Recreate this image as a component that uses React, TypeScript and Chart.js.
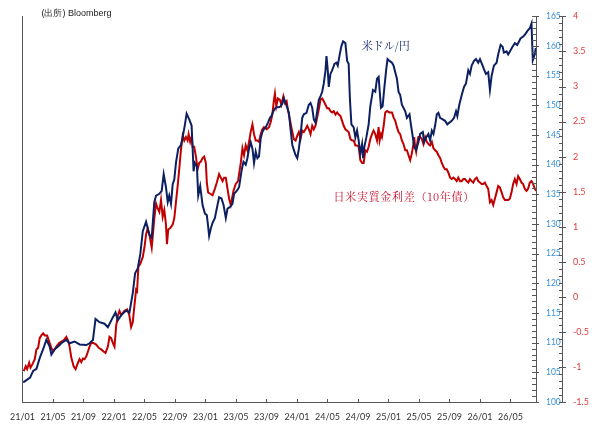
import React, { useEffect, useRef } from "react";
import { Chart, registerables } from "chart.js";

Chart.register(...registerables);

// ---- data (x = months since 2021/01) ----
const usdjpyMonth = [0.1,1.0,1.4,1.83,2.26,2.71,3.14,3.57,3.79,4.22,4.67,5.1,5.75,6.18,6.84,7.49,8.37,8.8,9.24,9.58,10.1,10.76,11.2,11.86,12.2,12.51,12.94,13.59,14.03,14.47,14.77,15.12,15.46,15.78,16.21,16.64,16.95,17.29,17.52,17.95,18.26,18.52,18.82,19.05,19.25,19.48,19.7,19.91,20.13,20.43,20.78,21.01,21.31,21.53,21.87,22.18,22.31,22.44,22.61,22.88,23.05,23.31,23.62,23.92,24.18,24.35,24.48,24.71,24.93,25.23,25.58,25.79,26.1,26.37,26.67,26.89,27.23,27.54,27.75,28.1,28.41,28.72,28.98,29.28,29.5,29.71,29.93,30.16,30.37,30.59,30.81,31.02,31.24,31.46,31.67,31.9,32.2,32.46,32.64,32.9,33.2,33.42,33.63,33.86,34.08,34.29,34.51,34.73,34.94,35.16,35.39,35.59,35.82,36.04,36.25,36.47,36.69,36.9,37.25,37.55,37.78,38.0,38.21,38.43,38.65,38.86,39.08,39.31,39.52,39.74,39.87,40.04,40.17,40.39,40.61,40.92,41.18,41.35,41.61,41.83,42.05,42.35,42.58,42.78,42.94,43.14,43.44,43.66,43.88,44.09,44.31,44.54,44.67,44.84,45.1,45.4,45.62,45.97,46.27,46.5,46.71,46.84,47.02,47.23,47.45,47.71,47.88,48.14,48.46,48.67,48.89,49.11,49.32,49.54,49.76,49.97,50.2,50.42,50.76,50.94,51.2,51.37,51.63,51.93,52.16,52.51,52.68,52.94,53.24,53.46,53.69,53.9,54.12,54.34,54.55,54.77,55.12,55.42,55.72,55.99,56.3,56.6,56.86,57.03,57.29,57.61,57.91,58.17,58.47,58.69,58.91,59.22,59.48,59.78,60.0,60.35,60.52,60.78,61.08,61.31,61.53,61.83,62.18,62.39,62.71,62.97,63.14,63.49,63.7,63.92,64.27,64.58,64.88,65.14,65.32,65.66,65.88,66.1,66.31,66.54,66.76,66.93,67.19,67.32];
const usdjpyValue = [103.3,104.1,105.25,105.6,107.4,108.9,110.5,109.35,108.0,108.9,109.35,109.9,110.5,109.9,110.2,109.7,109.6,109.9,110.45,114.0,113.45,113.2,112.6,114.3,115.1,113.8,114.6,115.4,115.1,118.4,121.7,122.5,125.0,128.8,130.4,128.2,127.7,133.7,134.8,135.1,135.6,138.4,136.2,133.7,134.8,133.4,136.7,137.5,140.3,142.7,143.3,144.6,146.8,148.6,147.65,146.6,143.0,138.9,140.3,139.7,134.8,136.4,133.2,131.8,131.5,129.6,128.0,129.3,130.2,131.0,133.2,134.5,134.3,133.2,131.0,132.6,132.9,133.4,135.1,135.6,136.2,138.9,140.5,140.0,141.1,142.7,143.8,142.7,140.3,142.2,141.1,141.4,144.4,145.5,146.0,146.3,147.1,147.9,148.2,149.0,149.6,149.7,149.7,149.85,150.3,151.2,150.4,149.6,148.75,146.0,143.3,142.5,141.6,141.1,142.7,144.9,147.9,148.5,148.75,150.1,150.4,149.6,147.65,147.1,149.0,150.9,151.5,152.3,153.7,155.9,158.3,155.9,153.1,155.3,155.9,157.0,157.2,156.7,158.6,160.0,160.8,160.5,157.5,157.0,151.2,146.8,146.3,144.6,145.75,144.1,141.9,143.5,141.1,143.0,144.6,146.8,149.85,152.6,152.3,154.5,154.8,152.6,149.6,149.85,152.85,156.1,157.8,157.5,157.2,156.7,155.6,154.5,152.3,151.75,150.1,149.6,149.0,147.9,148.5,146.8,144.6,143.0,142.5,143.8,145.2,145.5,143.8,144.6,145.2,144.1,145.75,145.2,146.6,148.5,148.75,147.9,147.65,147.4,146.8,147.1,147.4,147.9,149.0,148.2,150.1,151.75,153.1,153.7,155.9,155.3,156.7,157.5,157.8,157.2,157.8,156.7,156.1,155.3,155.6,152.6,155.0,156.7,157.2,158.6,160.2,159.9,158.9,159.1,158.6,159.1,159.9,160.5,160.2,160.8,161.3,161.6,161.9,162.3,162.7,163.0,163.8,157.6,158.6,159.7];

const spreadMonth = [0.17,0.43,0.61,0.88,1.05,1.31,1.61,1.83,2.05,2.26,2.48,2.71,2.92,3.23,3.57,3.79,4.01,4.22,4.44,4.8,5.1,5.4,5.75,5.97,6.18,6.41,6.71,6.97,7.28,7.49,7.71,7.93,8.14,8.37,8.59,8.8,9.02,9.32,9.67,10.03,10.33,10.63,10.89,11.2,11.41,11.63,11.86,12.07,12.29,12.51,12.72,12.94,13.37,13.73,13.99,14.25,14.47,14.68,14.9,15.03,15.2,15.46,15.78,15.99,16.21,16.43,16.64,16.95,17.29,17.52,17.74,17.95,18.17,18.39,18.6,18.82,18.95,19.12,19.39,19.7,19.91,20.13,20.35,20.56,20.78,21.01,21.22,21.44,21.66,21.79,22.0,22.18,22.31,22.52,22.75,22.97,23.18,23.4,23.62,23.83,24.05,24.18,24.35,24.61,24.93,25.23,25.49,25.79,26.01,26.24,26.44,26.67,26.89,27.1,27.32,27.67,27.97,28.27,28.63,28.85,29.06,29.28,29.5,29.71,29.93,30.16,30.37,30.59,30.81,31.02,31.24,31.46,31.67,32.03,32.33,32.55,32.77,32.98,33.11,33.29,33.5,33.76,33.95,34.21,34.42,34.64,34.81,35.07,35.39,35.59,35.82,36.04,36.25,36.47,36.69,36.9,37.12,37.35,37.56,37.78,38.0,38.21,38.43,38.65,38.86,39.08,39.31,39.52,39.74,39.96,40.17,40.39,40.61,40.82,41.05,41.27,41.48,41.7,41.92,42.13,42.35,42.58,42.78,43.01,43.23,43.44,43.66,43.88,44.09,44.31,44.54,44.75,44.97,45.19,45.4,45.62,45.84,46.05,46.27,46.5,46.71,46.84,47.02,47.15,47.37,47.58,47.8,48.14,48.46,48.67,48.89,49.11,49.32,49.54,49.76,49.97,50.2,50.42,50.63,50.85,51.07,51.28,51.37,51.5,51.63,51.8,51.93,52.16,52.38,52.59,52.81,53.03,53.24,53.46,53.69,53.9,54.12,54.34,54.55,54.77,54.99,55.2,55.42,55.65,55.86,56.08,56.3,56.51,56.73,56.95,57.16,57.39,57.61,57.82,58.04,58.26,58.47,58.69,58.91,59.12,59.35,59.57,59.78,60.0,60.22,60.43,60.65,60.87,61.08,61.31,61.53,61.74,61.96,62.18,62.39,62.61,62.84,63.05,63.27,63.49,63.7,63.92,64.14,64.35,64.58,64.8,65.01,65.23,65.45,65.66,65.88,66.1,66.31,66.54,66.76,66.97,67.19,67.41];
const spreadValue = [-1.06,-0.99,-1.03,-0.94,-1.01,-0.96,-0.89,-0.75,-0.73,-0.59,-0.55,-0.52,-0.55,-0.55,-0.66,-0.73,-0.78,-0.75,-0.71,-0.66,-0.64,-0.62,-0.57,-0.62,-0.71,-0.87,-0.99,-1.03,-0.94,-0.89,-0.93,-0.88,-0.89,-0.85,-0.78,-0.71,-0.66,-0.66,-0.68,-0.73,-0.75,-0.78,-0.8,-0.71,-0.57,-0.59,-0.66,-0.71,-0.41,-0.27,-0.2,-0.26,-0.2,-0.18,-0.25,-0.43,-0.36,-0.13,0.1,0.08,0.43,0.47,0.57,0.7,0.89,0.98,0.89,0.7,1.12,1.33,1.26,1.21,1.38,1.14,1.24,1.03,0.75,0.96,0.98,1.03,1.12,1.35,1.58,1.82,2.09,2.3,2.23,2.28,2.23,2.32,2.21,2.28,2.14,2.14,2.0,1.82,1.91,1.93,1.98,2.0,1.91,1.63,1.49,1.47,1.45,1.54,1.63,1.75,1.7,1.65,1.7,1.7,1.54,1.4,1.31,1.51,1.61,1.65,1.91,2.12,2.02,2.16,2.09,2.21,2.35,2.46,2.32,2.23,2.23,2.21,2.32,2.39,2.42,2.39,2.42,2.49,2.6,2.81,2.9,2.72,2.83,2.81,2.74,2.86,2.76,2.79,2.67,2.53,2.35,2.25,2.23,2.3,2.35,2.25,2.37,2.35,2.39,2.44,2.39,2.32,2.44,2.39,2.44,2.56,2.67,2.81,2.83,2.79,2.74,2.69,2.69,2.65,2.63,2.65,2.6,2.63,2.6,2.58,2.51,2.44,2.39,2.37,2.35,2.25,2.23,2.23,2.16,2.16,2.14,1.95,1.91,1.91,2.09,2.07,2.14,2.25,2.32,2.37,2.32,2.23,2.42,2.23,2.32,2.28,2.44,2.63,2.65,2.63,2.63,2.56,2.51,2.42,2.35,2.32,2.23,2.18,2.09,2.09,2.02,1.95,2.05,2.18,2.28,2.14,2.07,2.21,2.28,2.28,2.25,2.18,2.28,2.21,2.18,2.16,2.21,2.12,2.09,2.07,2.02,1.98,1.91,1.86,1.82,1.82,1.77,1.7,1.68,1.7,1.68,1.65,1.7,1.65,1.65,1.68,1.68,1.65,1.63,1.68,1.65,1.63,1.68,1.7,1.65,1.63,1.61,1.61,1.63,1.58,1.54,1.35,1.38,1.31,1.4,1.49,1.58,1.56,1.49,1.42,1.38,1.38,1.38,1.4,1.49,1.61,1.68,1.61,1.72,1.68,1.63,1.61,1.54,1.51,1.54,1.63,1.65,1.61,1.54,1.51];

const xTickMonths = [0, 4, 8, 12, 16, 20, 24, 28, 32, 36, 40, 44, 48, 52, 56, 60, 64];
const xTickLabels = ["21/01","21/05","21/09","22/01","22/05","22/09","23/01","23/05","23/09","24/01","24/05","24/09","25/01","25/05","25/09","26/01","26/05"];

const usdLabel = "米ドル/円";
const spreadLabel = "日米実質金利差（10年債）";
const sourceLabel = "(出所) Bloomberg";
const usdLabelAt = [44.5, 160.0];
const spreadLabelAt = [40.8, 1.43];

const NAVY = "#0c1f61";
const RED = "#c00000";
const AXIS = "#555555";

const decorations = {
  id: "decorations",
  afterDraw(chart: any) {
    const { ctx, chartArea, scales } = chart;
    const x = scales.x, y = scales.y, y1 = scales.y1;
    ctx.save();
    ctx.strokeStyle = AXIS;
    ctx.lineWidth = 1;
    ctx.beginPath();
    y.ticks.forEach((t: any) => {
      const py = Math.round(y.getPixelForValue(t.value)) + 0.5;
      const major = Math.round(t.value) % 5 === 0;
      ctx.moveTo(chartArea.right - 4, py);
      ctx.lineTo(chartArea.right + (major ? 3 : 0), py);
    });
    y1.ticks.forEach((t: any) => {
      const py = Math.round(y1.getPixelForValue(t.value)) + 0.5;
      const major = Math.round(t.value * 10) % 5 === 0;
      ctx.moveTo(y1.left - 3, py);
      ctx.lineTo(y1.left + (major ? 4 : 0), py);
    });
    xTickMonths.forEach((m) => {
      const px = Math.round(x.getPixelForValue(m)) + 0.5;
      ctx.moveTo(px, chartArea.bottom - 3);
      ctx.lineTo(px, chartArea.bottom);
    });
    ctx.stroke();

    ctx.textBaseline = "middle";
    ctx.textAlign = "left";
    ctx.fillStyle = "#222222";
    ctx.font = '9px "Liberation Sans", Arial, sans-serif';
    ctx.fillText(sourceLabel, chartArea.left + 19, 14);

    ctx.font = '11px "Noto Serif CJK JP", "Noto Sans CJK JP", serif';
    ctx.fillStyle = NAVY;
    ctx.fillText(usdLabel, x.getPixelForValue(usdLabelAt[0]), y.getPixelForValue(usdLabelAt[1]));
    ctx.fillStyle = "#c8102e";
    if ("letterSpacing" in ctx) (ctx as any).letterSpacing = "0.7px";
    ctx.fillText(spreadLabel, x.getPixelForValue(spreadLabelAt[0]), y1.getPixelForValue(spreadLabelAt[1]));
    ctx.restore();
  },
};

export default function App() {
  const ref = useRef<HTMLCanvasElement | null>(null);
  useEffect(() => {
    if (!ref.current) return;
    const chart = new Chart(ref.current, {
      type: "line",
      data: {
        datasets: [
          {
            label: "USDJPY",
            data: usdjpyMonth.map((m, i) => ({ x: m, y: usdjpyValue[i] })),
            borderColor: NAVY,
            borderWidth: 2,
            pointRadius: 0,
            tension: 0,
            yAxisID: "y",
            order: 1,
          },
          {
            label: "Spread",
            data: spreadMonth.map((m, i) => ({ x: m, y: spreadValue[i] })),
            borderColor: RED,
            borderWidth: 2,
            pointRadius: 0,
            tension: 0,
            yAxisID: "y1",
            order: 2,
          },
        ],
      },
      options: {
        animation: false,
        responsive: false,
        events: [],
        layout: { padding: { left: 21, right: 0, top: 6, bottom: 0 } },
        plugins: { legend: { display: false }, tooltip: { enabled: false }, title: { display: false } },
        scales: {
          x: {
            type: "linear",
            position: "bottom",
            min: 0,
            max: 67.35,
            afterBuildTicks: (axis: any) => {
              axis.ticks = xTickMonths.map((v) => ({ value: v }));
            },
            afterFit: (axis: any) => {
              axis.height = 26;
            },
            grid: { display: false, drawTicks: false },
            border: { display: true, color: AXIS, width: 1 },
            ticks: {
              autoSkip: false,
              maxRotation: 0,
              padding: 10,
              color: "#333333",
              font: { family: "Lato, 'DejaVu Sans', sans-serif", size: 9 },
              callback: (v: any) => {
                const i = xTickMonths.indexOf(Number(v));
                return i >= 0 ? xTickLabels[i] : "";
              },
            },
          },
          yL: {
            type: "linear",
            position: "left",
            afterFit: (axis: any) => {
              axis.width = 0;
            },
            grid: { display: false, drawTicks: false },
            border: { display: true, color: AXIS, width: 1 },
            ticks: { display: false },
          },
          y: {
            type: "linear",
            position: "right",
            min: 100,
            max: 165,
            afterFit: (axis: any) => {
              axis.width = 26;
            },
            grid: { display: false, drawTicks: false },
            border: { display: true, color: AXIS, width: 1 },
            ticks: {
              stepSize: 1,
              autoSkip: false,
              padding: 10,
              color: "#3a8fd8",
              font: { family: "Lato, 'DejaVu Sans', sans-serif", size: 8.5 },
              callback: (v: any) => (Math.round(Number(v)) % 5 === 0 ? String(Math.round(Number(v))) : ""),
            },
          },
          y1: {
            type: "linear",
            position: "right",
            min: -1.5,
            max: 4,
            afterFit: (axis: any) => {
              axis.width = 42;
            },
            grid: { display: false, drawTicks: false },
            border: { display: true, color: AXIS, width: 1 },
            ticks: {
              stepSize: 0.1,
              autoSkip: false,
              padding: 11,
              color: "#e03a3a",
              font: { family: "Lato, 'DejaVu Sans', sans-serif", size: 9 },
              callback: (v: any) => {
                const t = Math.round(Number(v) * 10);
                return t % 5 === 0 ? String(t / 10) : "";
              },
            },
          },
        },
      },
      plugins: [decorations],
    });
    return () => chart.destroy();
  }, []);
  return (
    <div style={{ position: "absolute", left: 0, top: 0, width: 604, height: 428, background: "#ffffff" }}>
      <canvas ref={ref} width={604} height={428} style={{ display: "block" }} />
    </div>
  );
}
